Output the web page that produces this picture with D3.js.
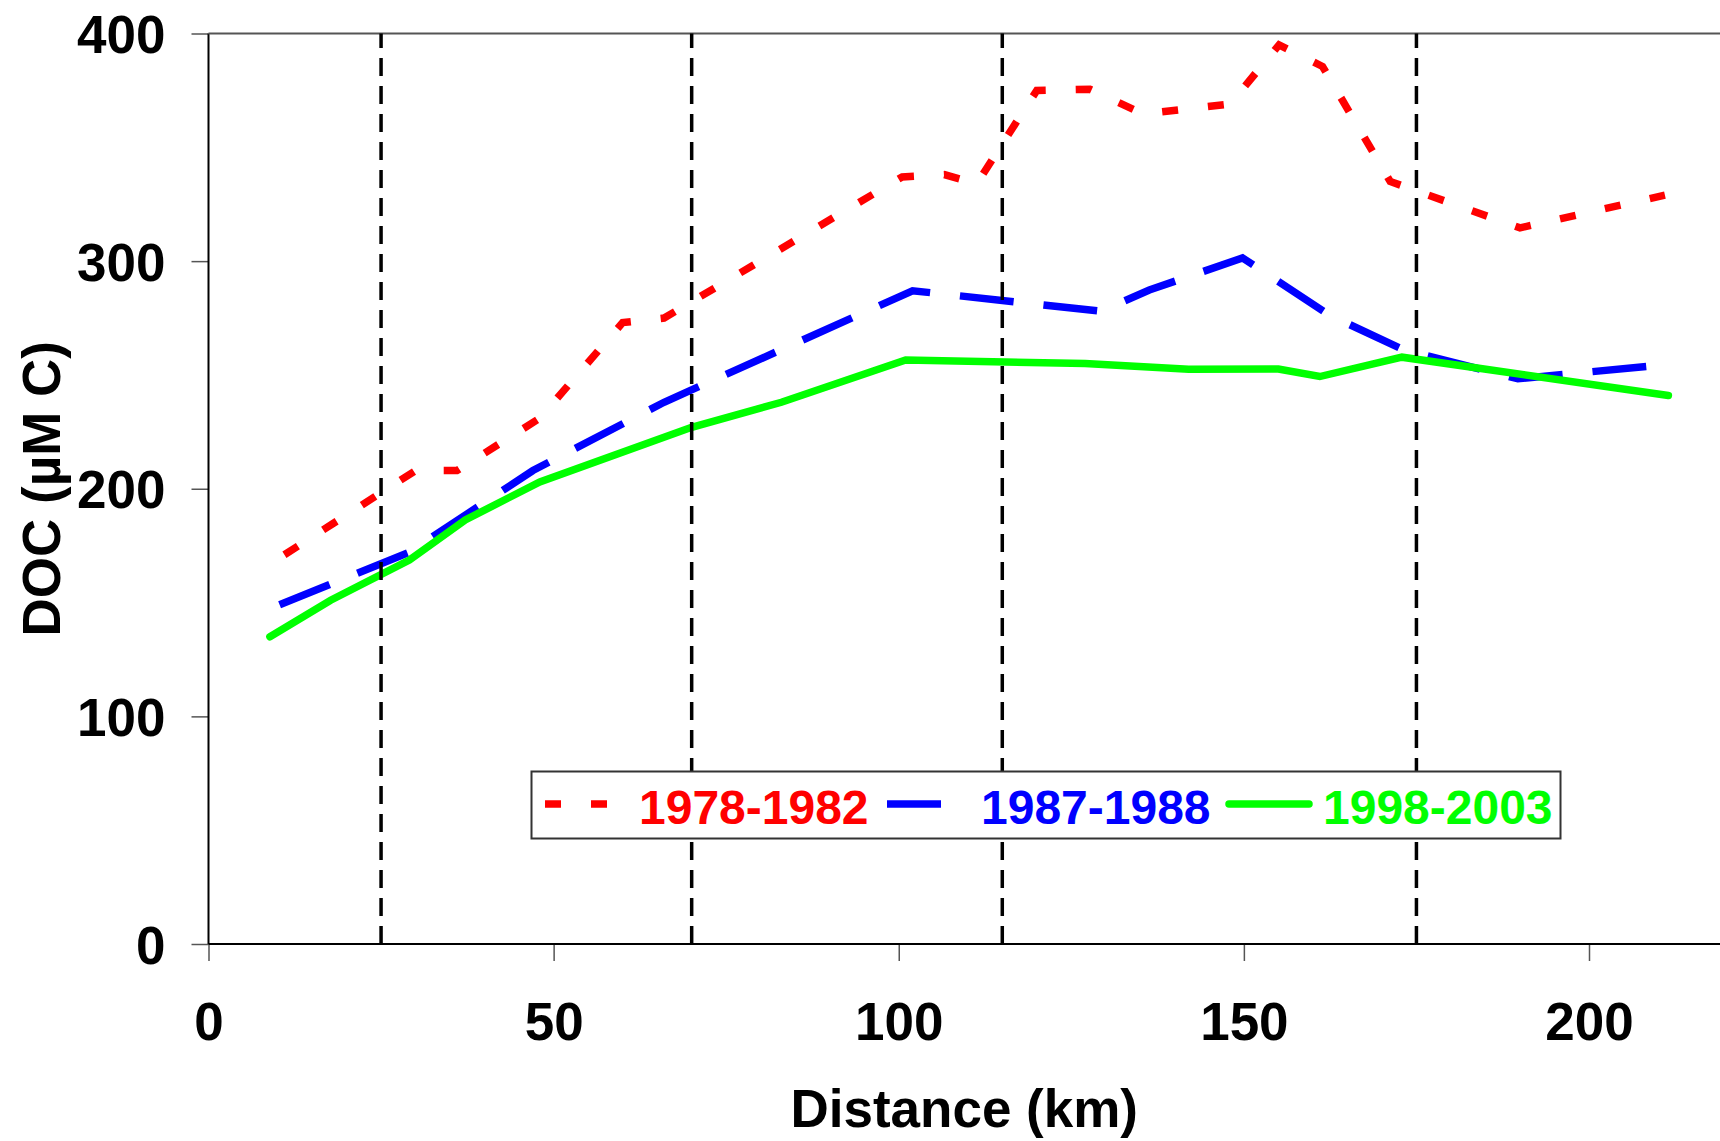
<!DOCTYPE html>
<html>
<head>
<meta charset="utf-8">
<script src="https://cdn.jsdelivr.net/npm/d3@7"></script>
<style>
  body { margin: 0; background: #fff; }
  svg { display: block; font-family: "Liberation Sans", Arial, sans-serif; font-weight: bold; }
  .tick text { font-size: 53px; font-weight: bold; fill: #000; }
  .tick line { stroke: #555; stroke-width: 1.5; }
</style>
</head>
<body>
<svg width="1720" height="1141"></svg>
<script>
// data (distance in km, DOC in uM C)
const seriesNames = ["1978-1982", "1987-1988", "1998-2003"];

const distRed = [11, 30, 36, 48, 60, 66, 100.5, 106.6, 111.3, 120, 127.7, 135.4, 148, 155.1, 161.4, 171.2, 190, 211];
const docRed = [171, 208, 208, 231, 273, 275, 337, 338, 334, 375, 375.5, 364.7, 369, 395, 385.5, 335, 314.6, 329];

const distBlue = [10.3, 29, 47, 66, 102, 129.3, 136.3, 149.8, 162.3, 173.2, 189.7, 209.2];
const docBlue = [149, 172, 208, 238, 287, 278, 287.3, 301.4, 276.4, 261, 248.3, 254];

const distGreen = [8.9, 17.7, 29.1, 37.2, 48, 70, 83, 101, 127, 142, 155, 161, 172.9, 211.5];
const docGreen = [135, 151, 168.7, 186.3, 203, 227, 238, 256.6, 255, 252.5, 252.6, 249.3, 257.8, 241];

// zone boundaries (dashed verticals)
const zoneBreaks = [25, 70, 115, 175];

const xTicks = [0, 50, 100, 150, 200];
const yTicks = [0, 100, 200, 300, 400];

const svg = d3.select("svg");

const x = d3.scaleLinear().domain([0, 200]).range([208.5, 1589]);
const y = d3.scaleLinear().domain([0, 400]).range([944, 33.5]);
const rightEdge = 1720;

const series = [
  { name: seriesNames[0], color: "#ff0000", dash: "16,30", cap: "butt", pts: d3.zip(distRed, docRed) },
  { name: seriesNames[1], color: "#0000ff", dash: "54,30", cap: "butt", pts: d3.zip(distBlue, docBlue) },
  { name: seriesNames[2], color: "#00ff00", dash: null, cap: "round", pts: d3.zip(distGreen, docGreen) }
];

const line = d3
  .line()
  .x((d) => x(d[0]))
  .y((d) => y(d[1]));

// ===========================================================================
// Axes
// ===========================================================================
const yAxis = svg
  .append("g")
  .attr("transform", `translate(${x(0)},0)`)
  .call(d3.axisLeft(y).tickValues(yTicks).tickSize(17).tickPadding(26));
yAxis.select(".domain").remove();
yAxis.selectAll("text").attr("dy", "0.36em");

const xAxis = svg
  .append("g")
  .attr("transform", `translate(0,${y(0)})`)
  .call(d3.axisBottom(x).tickValues(xTicks).tickSize(17));
xAxis.select(".domain").remove();
xAxis.selectAll("text").attr("y", 96).attr("dy", null);

// frame: left + bottom black, top grey, runs off the right edge
svg.append("line")
  .attr("x1", x(0)).attr("x2", x(0))
  .attr("y1", y(400)).attr("y2", y(0))
  .attr("stroke", "#000").attr("stroke-width", 2);
svg.append("line")
  .attr("x1", x(0)).attr("x2", rightEdge)
  .attr("y1", y(0)).attr("y2", y(0))
  .attr("stroke", "#000").attr("stroke-width", 2);
svg.append("line")
  .attr("x1", x(0)).attr("x2", rightEdge)
  .attr("y1", y(400)).attr("y2", y(400))
  .attr("stroke", "#555").attr("stroke-width", 2);

// ===========================================================================
// Series
// ===========================================================================
svg
  .append("g")
  .selectAll("path")
  .data(series)
  .enter()
  .append("path")
  .attr("d", (d) => line(d.pts))
  .attr("fill", "none")
  .attr("stroke", (d) => d.color)
  .attr("stroke-width", 7.5)
  .attr("stroke-dasharray", (d) => d.dash)
  .attr("stroke-linecap", (d) => d.cap)
  .attr("stroke-linejoin", "miter");

// dashed zone lines, drawn bottom-up
svg
  .append("g")
  .selectAll("line")
  .data(zoneBreaks)
  .enter()
  .append("line")
  .attr("x1", (d) => x(d))
  .attr("x2", (d) => x(d))
  .attr("y1", y(0))
  .attr("y2", y(400))
  .attr("stroke", "#000")
  .attr("stroke-width", 3.5)
  .attr("stroke-dasharray", "18,10");

// ===========================================================================
// Axis titles
// ===========================================================================
svg
  .append("text")
  .attr("x", (x(0) + rightEdge) / 2)
  .attr("y", 1127)
  .attr("text-anchor", "middle")
  .style("font-size", "53px")
  .text("Distance (km)");

svg
  .append("text")
  .attr("transform", `translate(60,${(y(0) + y(400)) / 2}) rotate(-90)`)
  .attr("text-anchor", "middle")
  .style("font-size", "53px")
  .text("DOC (\u00b5M C)");

// ===========================================================================
// Legend
// ===========================================================================
const legend = svg.append("g").attr("transform", "translate(531.5,771.5)");

legend
  .append("rect")
  .attr("width", 1029)
  .attr("height", 67)
  .attr("fill", "#fff")
  .attr("stroke", "#333")
  .attr("stroke-width", 2);

const item = legend
  .selectAll(".item")
  .data(series)
  .enter()
  .append("g")
  .attr("class", "item")
  .attr("transform", (d, i) => `translate(${13.5 + i * 342},0)`);

item
  .append("line")
  .attr("x1", 0)
  .attr("x2", 80)
  .attr("y1", 32.5)
  .attr("y2", 32.5)
  .attr("stroke", (d) => d.color)
  .attr("stroke-width", 7.5)
  .attr("stroke-dasharray", (d) => d.dash)
  .attr("stroke-linecap", (d) => d.cap);

item
  .append("text")
  .attr("x", 94)
  .attr("y", 52.5)
  .attr("fill", (d) => d.color)
  .style("font-size", "48px")
  .text((d) => d.name);
</script>
</body>
</html>
